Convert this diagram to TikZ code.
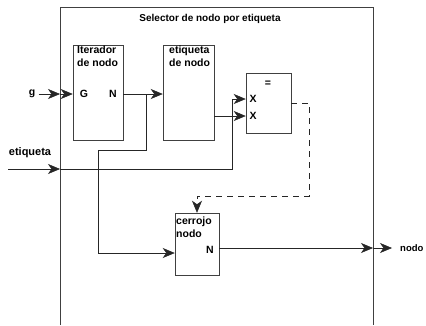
\documentclass[tikz,border=0pt]{standalone}
\usepackage{fontspec}
\setmainfont{Liberation Sans}
\usetikzlibrary{arrows.meta}

\begin{document}
\begin{tikzpicture}[x=1pt,y=-1pt,
	font=\fontsize{10.5}{13}\selectfont\bfseries,
	wire/.style={draw=black!85, line width=0.5pt},
	tip/.style={-{Stealth[length=12pt,width=10pt,inset=3.5pt]}},
	block/.style={draw=black!75, line width=0.5pt, inner sep=0pt},
	blocktext/.style={anchor=north west, align=left, inner sep=0pt}]
	\useasboundingbox (0,0) rectangle (426,325);
	% open frame of the selector
	\draw[black!75, line width=0.5pt] (60,325) -- (60,7) -- (373,7) -- (373,325);
	\node[font=\fontsize{10}{12}\selectfont\bfseries] (title) at (210,19) {Selector de nodo por etiqueta};
	% blocks
	\node[block, minimum width=50pt, minimum height=95pt] (iter) at (98,92.5) {};
	\node[block, minimum width=51pt, minimum height=95pt] (etq) at (188.5,92.5) {};
	\node[block, minimum width=45pt, minimum height=60pt] (igual) at (268.5,103) {};
	\node[block, minimum width=44pt, minimum height=62pt] (cerr) at (197,244) {};
	\node[blocktext] (itertxt) at (77,46) {Iterador\\de nodo};
	\node[blocktext] (etqtxt) at (169,46) {etiqueta\\de nodo};
	\node[blocktext] (cerrtxt) at (176,217) {cerrojo\\nodo};
	\node (eq) at (268,84) {=};
	\node (G) at (84,94) {G};
	\node (Niter) at (113,94) {N};
	\node (X1) at (253,99) {X};
	\node (X2) at (253,116) {X};
	\node (Ncerr) at (210,250) {N};
	% outside labels
	\node (g) at (32,94) {g};
	\node[font=\fontsize{11}{13}\selectfont\bfseries] (etqin) at (30,153) {etiqueta};
	\node[anchor=west, inner sep=0pt, font=\fontsize{9.5}{11}\selectfont\bfseries] (nodo) at (400,248) {nodo};
	\coordinate (ein) at (8,169);
	\coordinate (fg) at (60,94);
	\coordinate (fe) at (60,169);
	\coordinate (fo) at (373,248);
	% connectors
	\draw[wire,tip] (g) -- (fg);
	\draw[wire,tip] (fg) -- (iter.west |- fg);
	\draw[wire,tip] (iter.east |- fg) -- (etq.west |- fg);
	\draw[wire,tip] (146,94) |- (98,150) |- (cerr.west |- 0,253);
	\draw[wire,tip] (ein) -- (fe);
	\draw[wire,tip] (fe) -| (232,99) -- (igual.west |- X1);
	\draw[wire,tip] (etq.east |- X2) -- (igual.west |- X2);
	\draw[wire,tip,dash pattern=on 6pt off 5pt] (igual.east |- 0,103) -- (309,103) -- (309,196) -| (cerr.north);
	\draw[wire,tip] (cerr.east |- fo) -- (fo);
	\draw[wire,tip] (fo) -- ([xshift=-8pt]nodo.west);
\end{tikzpicture}
\end{document}
